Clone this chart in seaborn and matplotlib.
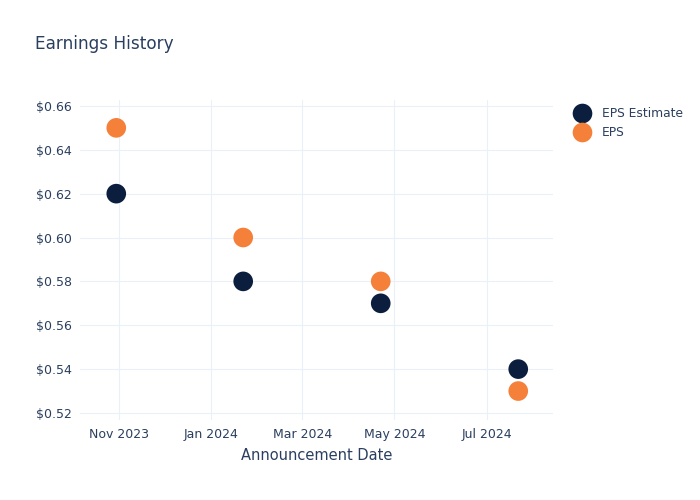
import matplotlib
matplotlib.use("Agg")
import matplotlib.pyplot as plt
import matplotlib.dates as mdates
from matplotlib.ticker import FuncFormatter
import seaborn as sns
import pandas as pd

dates = ["2023-10-30", "2024-01-22", "2024-04-22", "2024-07-22"]
eps_estimate = [0.62, 0.58, 0.57, 0.54]
eps_actual = [0.65, 0.60, 0.58, 0.53]
series_names = ["EPS Estimate", "EPS"]
colors = ["#0c1e3e", "#f5803a"]
tick_dates = ["2023-11-01", "2024-01-01", "2024-03-01", "2024-05-01", "2024-07-01"]
y_ticks = [0.52, 0.54, 0.56, 0.58, 0.60, 0.62, 0.64, 0.66]

df = pd.DataFrame({
    "date": pd.to_datetime(dates * 2),
    "value": eps_estimate + eps_actual,
    "series": [series_names[0]] * len(dates) + [series_names[1]] * len(dates),
})

sns.set_theme(style="white")
plt.rcParams['font.family'] = ['DejaVu Sans']
text_color = "#2a3f5f"
grid_color = "#ebf0f8"

fig = plt.figure(figsize=(7, 5), dpi=100)
ax = fig.add_axes([80 / 700, 1 - 420 / 500, (553 - 80) / 700, 320 / 500])

sns.scatterplot(data=df, x="date", y="value", hue="series", hue_order=series_names,
                palette=colors, s=200, edgecolor="none", ax=ax, zorder=3, legend=True)

ax.set_xlim(pd.Timestamp("2023-10-06"), pd.Timestamp("2024-08-14"))
ax.set_ylim(0.5168, 0.6627)
ax.set_xticks(pd.to_datetime(tick_dates))
ax.xaxis.set_major_formatter(mdates.DateFormatter("%b %Y"))
ax.set_yticks(y_ticks)
ax.yaxis.set_major_formatter(FuncFormatter(lambda v, p: f"${v:.2f}"))

ax.grid(True, color=grid_color, linewidth=0.8, zorder=0)
for s in ax.spines.values():
    s.set_visible(False)
ax.tick_params(axis="both", colors=text_color, labelsize=9, length=0, pad=6)
ax.set_xlabel("Announcement Date", color=text_color, fontsize=10.5, labelpad=5)
ax.set_ylabel("")

fig.text(35 / 700, 1 - 44 / 500, "Earnings History", color=text_color, fontsize=12.2,
         va="center", ha="left")

leg = ax.legend(loc="upper left", bbox_to_anchor=(1.02, 1.0), frameon=False,
                fontsize=8.8, labelcolor=text_color, handletextpad=0.6,
                borderaxespad=0.2, labelspacing=0.45, markerscale=1.0)

fig.savefig("out.png", dpi=100, facecolor="white")
